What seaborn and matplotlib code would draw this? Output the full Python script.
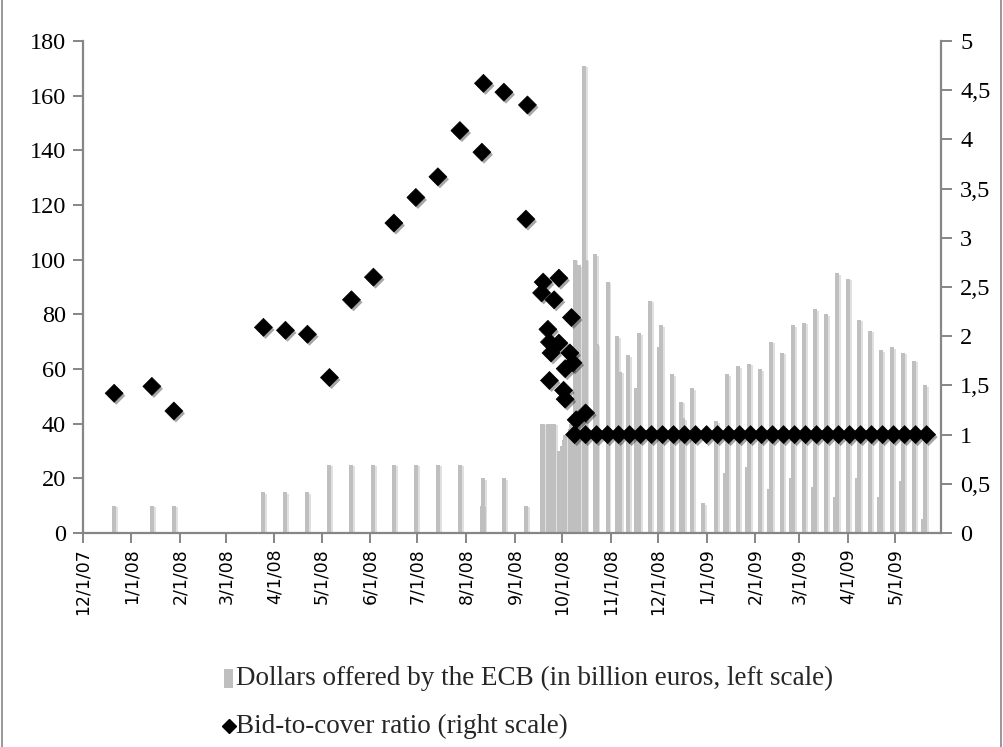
import matplotlib
matplotlib.use("Agg")
import matplotlib.pyplot as plt
import matplotlib.patheffects as pe
from matplotlib.patches import Rectangle
from matplotlib.lines import Line2D
import pandas as pd
import seaborn as sns

# ECB US-dollar liquidity operations: amount offered (billion) per operation date
offer_dates = [
    "2007-12-21", "2008-01-14", "2008-01-28", "2008-03-25", "2008-04-08",
    "2008-04-22", "2008-05-06", "2008-05-20", "2008-06-03", "2008-06-16",
    "2008-06-30", "2008-07-14", "2008-07-28", "2008-08-11", "2008-08-12",
    "2008-08-25", "2008-09-08", "2008-09-18", "2008-09-19", "2008-09-22",
    "2008-09-23", "2008-09-24", "2008-09-25", "2008-09-26", "2008-09-29",
    "2008-10-01", "2008-10-02", "2008-10-03", "2008-10-06", "2008-10-07",
    "2008-10-09", "2008-10-12", "2008-10-15", "2008-10-16", "2008-10-22",
    "2008-10-23", "2008-10-30", "2008-11-05", "2008-11-07", "2008-11-12",
    "2008-11-17", "2008-11-19", "2008-11-26", "2008-12-02", "2008-12-03",
    "2008-12-10", "2008-12-16", "2008-12-17", "2008-12-23", "2008-12-30",
    "2009-01-07", "2009-01-13", "2009-01-14", "2009-01-21", "2009-01-27",
    "2009-01-28", "2009-02-04", "2009-02-10", "2009-02-11", "2009-02-18",
    "2009-02-24", "2009-02-25", "2009-03-04", "2009-03-10", "2009-03-11",
    "2009-03-18", "2009-03-24", "2009-03-25", "2009-04-01", "2009-04-07",
    "2009-04-08", "2009-04-15", "2009-04-21", "2009-04-22", "2009-04-29",
    "2009-05-05", "2009-05-06", "2009-05-13", "2009-05-19", "2009-05-20",
]
offer_values = [
    10, 10, 10, 15, 15,
    15, 25, 25, 25, 25,
    25, 25, 25, 10, 20,
    20, 10, 40, 40, 40,
    40, 40, 40, 40, 30,
    32, 34, 36, 38, 40,
    100, 98, 171, 100, 102,
    69, 92, 72, 59, 65,
    53, 73, 85, 68, 76,
    58, 48, 42, 53, 11,
    41, 22, 58, 61, 24,
    62, 60, 16, 70, 66,
    20, 76, 77, 17, 82,
    80, 13, 95, 93, 20,
    78, 74, 13, 67, 68,
    19, 66, 63, 5, 54,
]

# Bid-to-cover ratio per operation
ratio_dates = [
    "2007-12-21", "2008-01-14", "2008-01-28", "2008-03-25", "2008-04-08",
    "2008-04-22", "2008-05-06", "2008-05-20", "2008-06-03", "2008-06-16",
    "2008-06-30", "2008-07-14", "2008-07-28", "2008-08-11", "2008-08-12",
    "2008-08-25", "2008-09-08", "2008-09-09", "2008-09-18", "2008-09-19",
    "2008-09-22", "2008-09-23", "2008-09-23", "2008-09-24", "2008-09-26",
    "2008-09-29", "2008-09-29", "2008-10-02", "2008-10-03", "2008-10-03",
    "2008-10-06", "2008-10-07", "2008-10-08", "2008-10-10", "2008-10-16",
    "2008-10-09", "2008-10-16", "2008-10-23", "2008-10-30", "2008-11-06",
    "2008-11-13", "2008-11-20", "2008-11-27", "2008-12-04", "2008-12-11",
    "2008-12-18", "2008-12-25", "2009-01-01", "2009-01-08", "2009-01-15",
    "2009-01-22", "2009-01-29", "2009-02-05", "2009-02-12", "2009-02-19",
    "2009-02-26", "2009-03-05", "2009-03-12", "2009-03-19", "2009-03-26",
    "2009-04-02", "2009-04-09", "2009-04-16", "2009-04-23", "2009-04-30",
    "2009-05-07", "2009-05-14", "2009-05-21",
]
ratio_values = [
    1.42, 1.49, 1.24, 2.09, 2.06,
    2.02, 1.58, 2.37, 2.60, 3.15,
    3.41, 3.62, 4.09, 3.87, 4.57,
    4.48, 3.19, 4.35, 2.44, 2.55,
    2.07, 1.94, 1.55, 1.83, 2.37,
    2.59, 1.93, 1.45, 1.67, 1.36,
    1.83, 2.19, 1.73, 1.15, 1.22,
    1.0, 1.0, 1.0, 1.0, 1.0,
    1.0, 1.0, 1.0, 1.0, 1.0,
    1.0, 1.0, 1.0, 1.0, 1.0,
    1.0, 1.0, 1.0, 1.0, 1.0,
    1.0, 1.0, 1.0, 1.0, 1.0,
    1.0, 1.0, 1.0, 1.0, 1.0,
    1.0, 1.0, 1.0,
]

month_ticks = ["12/1/07", "1/1/08", "2/1/08", "3/1/08", "4/1/08", "5/1/08",
               "6/1/08", "7/1/08", "8/1/08", "9/1/08", "10/1/08", "11/1/08",
               "12/1/08", "1/1/09", "2/1/09", "3/1/09", "4/1/09", "5/1/09"]
left_ticks = [0, 20, 40, 60, 80, 100, 120, 140, 160, 180]
right_ticks = [0, 0.5, 1, 1.5, 2, 2.5, 3, 3.5, 4, 4.5, 5]
right_tick_labels = ["0", "0,5", "1", "1,5", "2", "2,5", "3", "3,5", "4", "4,5", "5"]

bar_label = "Dollars offered by the ECB (in billion euros, left scale)"
ratio_label = "Bid-to-cover ratio (right scale)"

sns.set_style("white")
plt.rcParams["font.family"] = ["DejaVu Sans"]

AXIS_GREY = "#868686"
BAR_GREY = "#bfbfbf"
SERIF = "Liberation Serif"

offers = pd.DataFrame({"date": pd.to_datetime(offer_dates), "amount": offer_values})
ratios = pd.DataFrame({"date": pd.to_datetime(ratio_dates), "ratio": ratio_values})

fig = plt.figure(figsize=(10.04, 7.47), dpi=100)
ax = fig.add_axes([0.0824, 0.2865, 0.8546, 0.6586])

bars = ax.bar(offers["date"], offers["amount"], width=2.5, color=BAR_GREY,
              linewidth=0, zorder=2)
for b in bars:
    b.set_path_effects([pe.SimplePatchShadow(offset=(1.2, -1.2), shadow_rgbFace="#000000",
                                             alpha=0.12), pe.Normal()])

ax2 = ax.twinx()
sns.scatterplot(data=ratios, x="date", y="ratio", marker="D", s=84, color="black",
                edgecolor="black", linewidth=0.5, ax=ax2, legend=False, zorder=3)
for coll in ax2.collections:
    coll.set_path_effects([pe.SimplePatchShadow(offset=(1.5, -1.8), shadow_rgbFace="#000000",
                                                alpha=0.35), pe.Normal()])

ax.set_xlim(pd.Timestamp("2007-12-01"), pd.Timestamp("2009-05-30"))
ax.set_ylim(0, 180)
ax2.set_ylim(0, 5)

tick_dates = pd.to_datetime(month_ticks, format="%m/%d/%y")
ax.set_xticks(tick_dates)
ax.set_xticklabels(month_ticks, rotation=90, fontsize=12.5, family="DejaVu Sans")
ax.set_yticks(left_ticks)
ax.set_yticklabels([str(v) for v in left_ticks], fontsize=17.5, family=SERIF)
ax2.set_yticks(right_ticks)
ax2.set_yticklabels(right_tick_labels, fontsize=17.5, family=SERIF)
ax.set_xlabel("")
ax.set_ylabel("")
ax2.set_xlabel("")
ax2.set_ylabel("")

for a in (ax, ax2):
    a.spines["top"].set_visible(False)
    for s in ("left", "right", "bottom"):
        a.spines[s].set_color(AXIS_GREY)
        a.spines[s].set_linewidth(1.6)
    a.grid(False)
ax.spines["right"].set_visible(False)
ax2.spines["left"].set_visible(False)
ax2.spines["bottom"].set_visible(False)

ax.tick_params(axis="x", bottom=True, direction="out", length=7, width=1.4,
               color=AXIS_GREY, pad=4, labelcolor="black")
ax.tick_params(axis="y", left=True, direction="out", length=7, width=1.4,
               color=AXIS_GREY, pad=5, labelcolor="black")
ax2.tick_params(axis="y", right=True, left=False, direction="out", length=8, width=1.4,
                color=AXIS_GREY, pad=6, labelcolor="black")
ax.patch.set_visible(False)

# Legend drawn below the plot, in figure pixel coordinates
W, H = 1004, 747
def fx(px):
    return px / W
def fy(py):
    return 1 - py / H

fig.patches.append(Rectangle((fx(224), fy(688)), 9 / W, 19 / H, transform=fig.transFigure,
                             facecolor=BAR_GREY, edgecolor="none"))
fig.text(fx(236), fy(678), bar_label, fontsize=19.5, family=SERIF, va="center", ha="left")
fig.lines.append(Line2D([fx(229)], [fy(726)], marker="D", markersize=7.5, color="black",
                        transform=fig.transFigure, linestyle="none"))
fig.text(fx(236), fy(726), ratio_label, fontsize=19.5, family=SERIF, va="center", ha="left")

# Frame of the chart area
for px in (2.5, 1001.5):
    fig.lines.append(Line2D([fx(px), fx(px)], [0, 1], color=AXIS_GREY, linewidth=1.2,
                            transform=fig.transFigure))

fig.savefig("out.png", dpi=100)
